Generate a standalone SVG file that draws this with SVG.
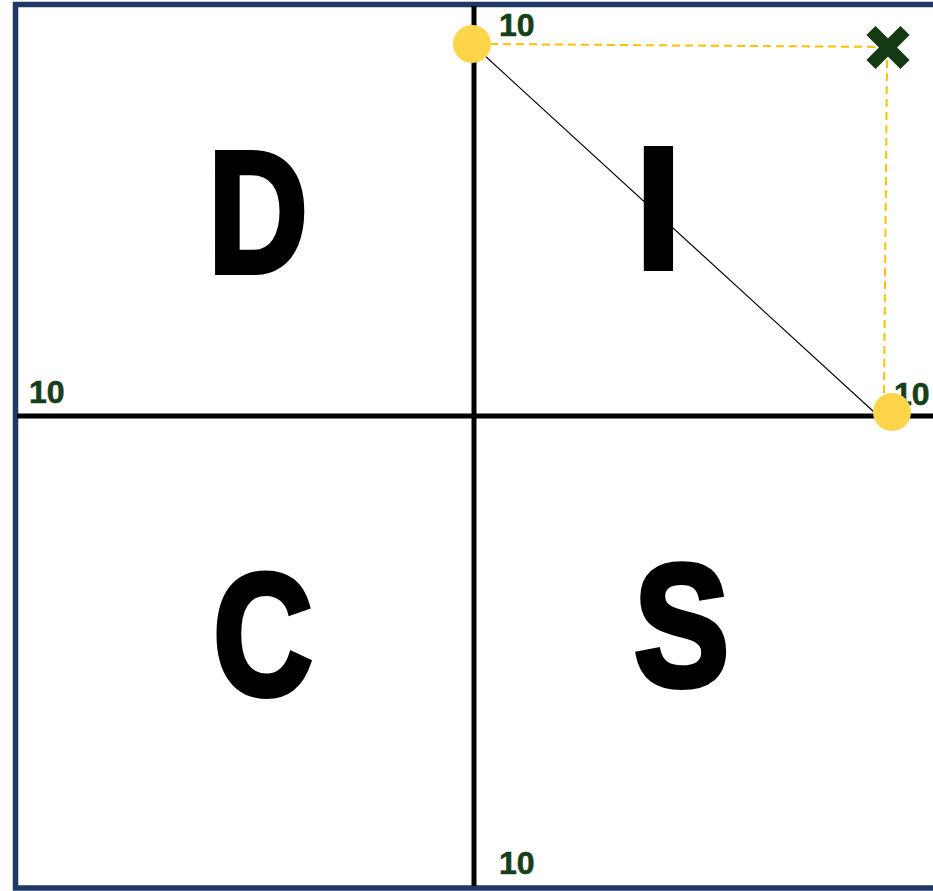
<svg xmlns="http://www.w3.org/2000/svg" width="933" height="891" viewBox="0 0 933 891">
<style>
.big{font-family:"Liberation Sans",Arial,sans-serif;font-weight:bold;font-size:172px;fill:#000;stroke:#000;stroke-width:6;stroke-linejoin:miter;text-anchor:middle}
.num{font-family:"Liberation Sans",Arial,sans-serif;font-weight:bold;font-size:32px;fill:#17401A;stroke:#17401A;stroke-width:0.6}
.dash{stroke:#FFC000;stroke-width:2;stroke-dasharray:8 5;fill:none}
.dot{fill:#FDD54B}
</style>
<rect width="933" height="891" fill="#fff"/>
<g id="frame">
<rect x="15.5" y="4.5" width="940" height="883.5" fill="none" stroke="#1F3864" stroke-width="5.5"/>
</g>
<g id="axes">
<line x1="474" y1="6" x2="474" y2="886" stroke="#000" stroke-width="5"/>
<line x1="17" y1="416" x2="933" y2="416" stroke="#000" stroke-width="5"/>
</g>
<g id="quad-D"><text class="big" transform="translate(258,272) scale(0.8,1)">D</text></g>
<g id="quad-I"><text class="big" transform="translate(658.5,268) scale(0.95,1)">I</text></g>
<g id="quad-C"><text class="big" transform="translate(263,694) scale(0.8,1)">C</text></g>
<g id="quad-S"><text class="big" transform="translate(681.5,685) scale(0.83,1)">S</text></g>
<g id="labels">
<text class="num" x="499" y="36">10</text>
<text class="num" x="29" y="403">10</text>
<text class="num" x="499" y="874">10</text>
<text class="num" x="894" y="405">10</text>
</g>
<g id="connectors">
<line x1="472" y1="44" x2="874" y2="412" stroke="#000" stroke-width="1.2"/>
<line class="dash" x1="490" y1="44" x2="886" y2="47"/>
<line class="dash" x1="887" y1="60" x2="884" y2="394"/>
</g>
<g id="point-top"><circle class="dot" cx="472" cy="44" r="19"/></g>
<g id="point-right"><circle class="dot" cx="892" cy="412" r="19"/></g>
<g id="target">
<path d="M871,30.5 L905,64.5 M905,30.5 L871,64.5" stroke="#133A12" stroke-width="13" fill="none"/>
</g>
</svg>
